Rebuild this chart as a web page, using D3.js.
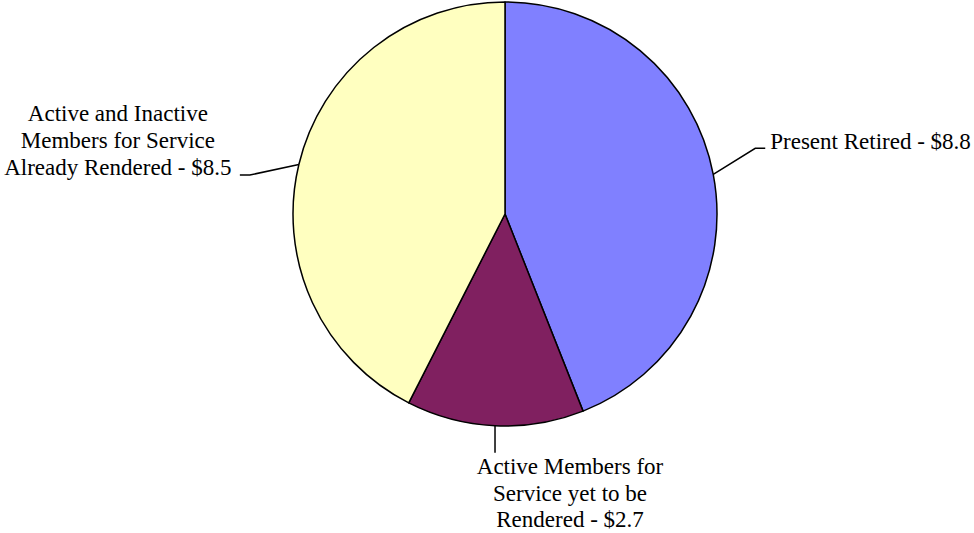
<!DOCTYPE html>
<html>
<head>
<meta charset="utf-8">
<script src="https://cdn.jsdelivr.net/npm/d3@7"></script>
<style>
  html, body { margin: 0; padding: 0; background: #ffffff; }
  svg { display: block; }
  text { font-family: "Liberation Serif", "Times New Roman", serif; font-size: 23px; fill: #000; }
</style>
</head>
<body>
<svg id="chart" width="974" height="533"></svg>
<script>
const categories = ["Present Retired", "Active Members for Service yet to be Rendered", "Active and Inactive Members for Service Already Rendered"];
const values = [8.8, 2.7, 8.5];
const labelLines = [
  ["Present Retired - $8.8"],
  ["Active Members for", "Service yet to be", "Rendered - $2.7"],
  ["Active and Inactive", "Members for Service", "Already Rendered - $8.5"]
];
const colors = ["#8080FF", "#802060", "#FFFFC0"];

const svg = d3.select("#chart");
const cx = 505, cy = 214, r = 212;

const data = categories.map((c, i) => ({ name: c, value: values[i], lines: labelLines[i], color: colors[i] }));

const pie = d3.pie().value(d => d.value).sort(null);
const arcs = pie(data);
const arc = d3.arc().innerRadius(0).outerRadius(r);

const g = svg.append("g").attr("transform", `translate(${cx},${cy})`);

g.selectAll("path.slice")
  .data(arcs)
  .join("path")
  .attr("class", "slice")
  .attr("d", arc)
  .attr("fill", d => d.data.color)
  .attr("stroke", "#000")
  .attr("stroke-width", 1.5)
  .attr("stroke-linejoin", "round");

// leader line layouts (relative offsets)
const layouts = [
  { path: (p) => [p, [p[0] + 42, p[1] - 26], [p[0] + 52, p[1] - 26]], anchor: "start", tx: (p) => p[0] + 57, ty: (p) => p[1] - 25.5, dy: 27 },
  { path: (p) => [p, [p[0], p[1] + 27]], anchor: "middle", tx: (p) => p[0] + 75, ty: (p) => p[1] + 48.5, dy: 26.5 },
  { path: (p) => [p, [p[0] - 49, p[1] + 10.5], [p[0] - 59, p[1] + 10.5]], anchor: "middle", tx: (p) => p[0] - 181, ty: (p) => p[1] - 43.5, dy: 27 }
];

arcs.forEach((a, i) => {
  const mid = (a.startAngle + a.endAngle) / 2;
  const p = [r * Math.sin(mid), -r * Math.cos(mid)];
  const L = layouts[i];
  g.append("path")
    .attr("d", d3.line()(L.path(p)))
    .attr("fill", "none")
    .attr("stroke", "#000")
    .attr("stroke-width", 1.5);
  const t = g.append("text")
    .attr("text-anchor", L.anchor)
    .attr("x", L.tx(p))
    .attr("y", L.ty(p));
  a.data.lines.forEach((ln, j) => {
    t.append("tspan")
      .attr("x", L.tx(p))
      .attr("y", L.ty(p) + j * L.dy)
      .text(ln);
  });
});
</script>
</body>
</html>
